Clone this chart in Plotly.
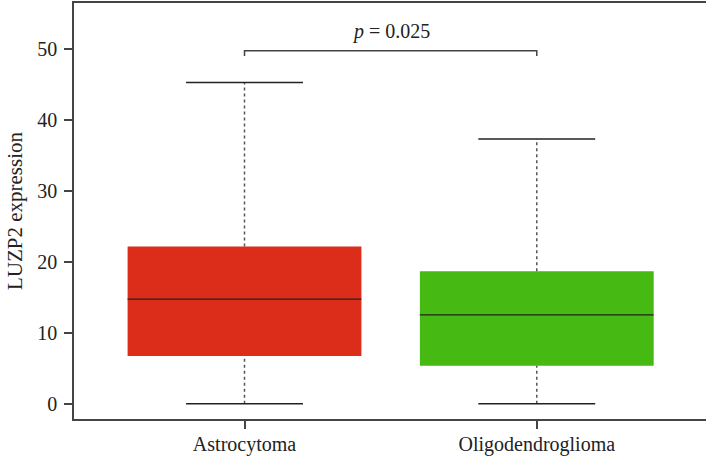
import plotly.graph_objects as go

categories = ["Astrocytoma", "Oligodendroglioma"]
positions = [1, 2]
q1 = [6.75, 5.35]
median = [14.75, 12.55]
q3 = [22.2, 18.7]
lower_whisker = [0.0, 0.0]
upper_whisker = [45.3, 37.35]
colors = ["#DC2D1B", "#46B913"]
p_text = "<i>p</i> = 0.025"
bracket_y = [49.05, 49.8]
y_ticks = [0, 10, 20, 30, 40, 50]

FONT = "Liberation Serif"
box_w = 0.8
cap_w = 0.4

fig = go.Figure()

# boxes
fig.add_trace(go.Bar(x=positions, y=[b - a for a, b in zip(q1, q3)], base=q1,
                     width=box_w, marker=dict(color=colors, line=dict(width=0)),
                     showlegend=False, hoverinfo="skip"))

for i, x in enumerate(positions):
    # whiskers (dotted)
    fig.add_trace(go.Scatter(x=[x, x], y=[q3[i], upper_whisker[i]], mode="lines",
                             line=dict(color="#555555", width=1.5, dash="dot"),
                             showlegend=False, hoverinfo="skip"))
    fig.add_trace(go.Scatter(x=[x, x], y=[lower_whisker[i], q1[i]], mode="lines",
                             line=dict(color="#555555", width=1.5, dash="dot"),
                             showlegend=False, hoverinfo="skip"))
    # caps
    for v in (lower_whisker[i], upper_whisker[i]):
        fig.add_trace(go.Scatter(x=[x - cap_w / 2, x + cap_w / 2], y=[v, v], mode="lines",
                                 line=dict(color="#222222", width=1.5),
                                 showlegend=False, hoverinfo="skip"))
    # median
    fig.add_trace(go.Scatter(x=[x - box_w / 2, x + box_w / 2], y=[median[i], median[i]],
                             mode="lines", line=dict(color="#222222", width=1.3),
                             showlegend=False, hoverinfo="skip"))

# significance bracket
fig.add_trace(go.Scatter(x=[positions[0], positions[0], positions[1], positions[1]],
                         y=[bracket_y[0], bracket_y[1], bracket_y[1], bracket_y[0]],
                         mode="lines", line=dict(color="#444444", width=1.5),
                         showlegend=False, hoverinfo="skip"))
fig.add_annotation(x=(positions[0] + positions[1]) / 2, y=50.6, yanchor="bottom",
                   text=p_text, showarrow=False,
                   font=dict(family=FONT, size=20, color="#222222"))

fig.update_layout(
    width=706, height=456,
    margin=dict(l=74, r=0, t=3, b=37),
    plot_bgcolor="white", paper_bgcolor="white",
    font=dict(family=FONT, size=19, color="#222222"),
    xaxis=dict(range=[0.4166, 2.579], tickvals=positions, ticktext=categories,
               showline=True, mirror=True, linecolor="#444444", linewidth=1.5,
               ticks="outside", ticklen=8, tickwidth=1.5, tickcolor="#444444",
               showgrid=False, zeroline=False, tickfont=dict(size=20),
               ticklabelstandoff=-2, automargin=False),
    yaxis=dict(range=[-2.15, 56.53], tickvals=y_ticks,
               showline=True, linecolor="#444444", linewidth=1.5,
               ticks="outside", ticklen=8, tickwidth=1.5, tickcolor="#444444",
               showgrid=False, zeroline=False, tickfont=dict(size=20),
               ticklabelstandoff=3, automargin=False,
               title=dict(text="LUZP2 expression", font=dict(size=21), standoff=9)),
)

fig.write_html("out.html", config={"displayModeBar": False},
               post_script="document.body.style.margin='0';document.body.style.overflow='hidden';")
